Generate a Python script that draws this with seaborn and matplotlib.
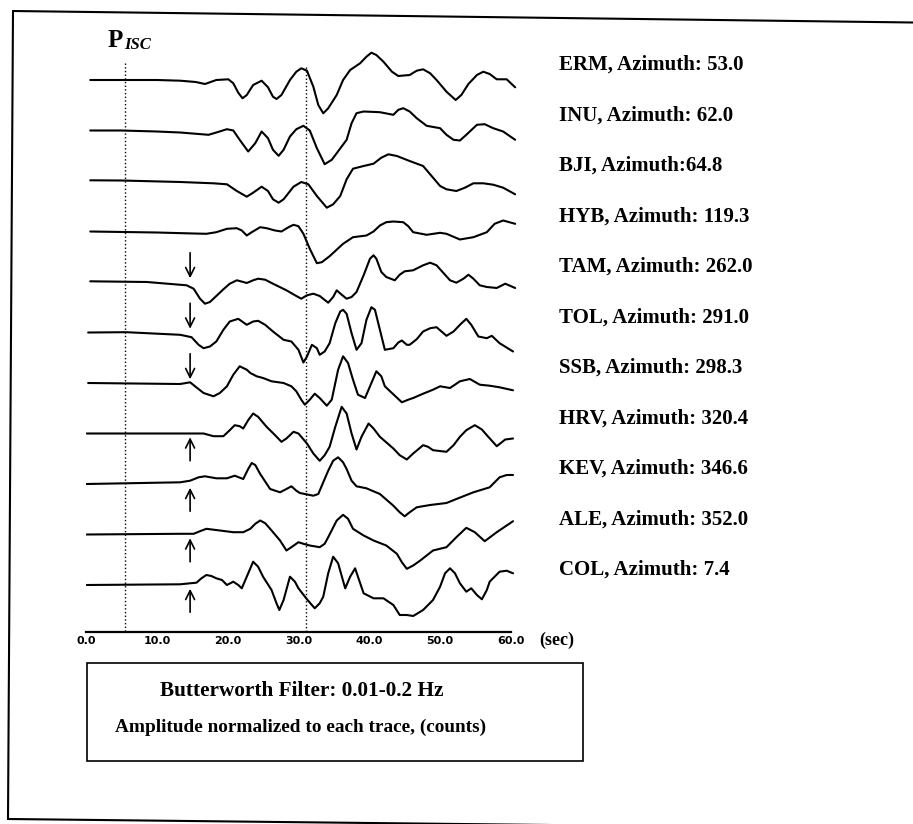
import pandas as pd
import matplotlib.pyplot as plt
import seaborn as sns
from matplotlib.patches import Rectangle
from matplotlib.lines import Line2D

erm = [(0.6, 0), (5, 0), (10, 0), (13.3, -0.7), (15.5, -2), (16.8, -4), (18.4, 0), (20.1, 0.7),
       (20.8, -3.3), (21.5, -12.7), (22.1, -18.3), (22.7, -15), (23.6, -5), (24.8, -0.7), (25.7, -7.3),
       (26.4, -16.7), (26.9, -19), (27.6, -15), (28.8, 0), (29.7, 8.3), (30.4, 11.7), (31.2, 9.3),
       (32.1, -6.7), (32.8, -25), (33.5, -33.3), (34.2, -28.3), (35.4, -15), (36.3, 0), (37.3, 10),
       (38.7, 16.7), (39.6, 23.3), (40.3, 27.3), (41.0, 25), (42.0, 18.3), (43.2, 8.3), (44.1, 4),
       (45.7, 5), (46.7, 9.3), (47.6, 10.7), (48.6, 6.7), (49.5, 0), (50.9, -11.7), (52.2, -20),
       (53.0, -15), (54.0, -4), (55.2, 5), (56.1, 8.3), (57.0, 6), (58.0, 0.7), (59.4, 0.7), (60.6, -7.3)]
inu = [(0.6, 0), (5, 0), (10, -1), (13.3, -2), (17.3, -4.3), (18.4, -2), (19.9, 1.3), (20.8, 0),
       (21.7, -9.3), (22.9, -21), (23.9, -12.7), (24.8, -1), (25.7, -7.7), (26.4, -19.3), (27.2, -25.3),
       (27.9, -19.3), (28.8, -6), (29.7, 1.3), (30.7, 4.7), (31.6, 0), (32.6, -17.7), (33.7, -33.7),
       (34.7, -29.3), (35.4, -22.7), (36.8, -9.3), (37.5, 7.3), (38.2, 17.3), (39.2, 19), (41.5, 18.3),
       (43.4, 15.7), (44.1, 20.7), (44.8, 22.3), (45.7, 19), (46.7, 12.3), (48.1, 4.7), (50.0, 2.3),
       (50.9, -4.3), (51.9, -9.3), (52.8, -10), (53.7, -4.3), (55.2, 5.7), (56.3, 6.3), (57.5, 2.3),
       (58.9, -1), (60.6, -9.3)]
bji = [(0.6, 0.7), (5, 0.5), (13.3, -1), (18.0, -2.3), (19.9, -3.3), (21.3, -10), (22.7, -15.7),
       (23.6, -11.7), (24.8, -5.7), (25.7, -10), (26.4, -18.3), (27.2, -21.7), (27.9, -18.3),
       (29.3, -5.7), (30.4, -1), (31.4, -3.3), (32.6, -15), (34.0, -26.7), (34.9, -23.3), (35.9, -15),
       (36.8, 1.7), (37.7, 12.3), (39.2, 15), (40.6, 17.3), (41.7, 23.3), (42.7, 26.7), (43.9, 25),
       (45.7, 20), (47.6, 15), (48.8, 5), (50.0, -5), (50.9, -8.3), (52.3, -10), (53.5, -6.7),
       (54.7, -2.3), (56.1, -2.3), (57.5, -3.7), (58.9, -6.7), (60.6, -13.3)]
hyb = [(0.6, 0), (10, -1), (15.2, -2), (17.0, -2.3), (18.4, -0.7), (19.9, 2.7), (21.3, 3.3),
       (22.0, 1), (22.7, -4), (23.4, -0.7), (24.6, 4.3), (25.5, 3.3), (26.7, 1), (27.6, 0), (28.6, 4.3),
       (29.3, 6.7), (30.0, 5.3), (30.7, -2.3), (31.6, -17.3), (32.6, -31.7), (33.3, -30.7),
       (34.4, -24.7), (36.3, -12.3), (37.7, -5.7), (39.6, -4), (40.6, 0), (41.5, 6), (42.4, 9.3),
       (43.4, 10), (44.8, 9.3), (45.5, 5.3), (46.2, -0.7), (48.1, -3.3), (50.0, -1.3), (50.9, -2.3),
       (52.8, -8), (54.7, -5.7), (56.6, -0.7), (57.7, 7.7), (58.9, 11), (60.6, 7.7)]
tam = [(0.6, 0.7), (8.6, 0), (14.2, -3.3), (15.2, -6.7), (16.1, -16.7), (16.8, -21.7), (17.5, -20),
       (18.4, -14), (19.4, -7.3), (20.3, -1.7), (21.3, 1.7), (22.2, 0), (22.7, -1), (23.6, 1.7),
       (24.3, 3.3), (25.3, 2.3), (26.4, -1.7), (28.3, -8.3), (29.7, -14), (30.4, -16.7), (31.2, -13.3),
       (32.1, -11.7), (33.0, -14), (34.2, -20.7), (34.9, -15), (35.4, -8.3), (36.1, -12.7),
       (36.8, -16.7), (37.5, -15), (38.2, -10), (39.2, 6.7), (40.1, 23.3), (40.6, 26.7), (41.0, 23.3),
       (41.7, 10), (42.4, 5), (43.6, 1.7), (44.3, 7.3), (45.0, 10.7), (46.2, 11.7), (47.6, 16.7),
       (48.6, 19.3), (49.5, 16.7), (51.4, 1.7), (52.3, -0.7), (53.3, 3.3), (54.0, 7.3), (54.7, 3.3),
       (55.6, -3.3), (56.6, -5), (58.0, -6), (59.2, -1.7), (60.6, -6)]
tol = [(0.3, 0), (5.7, 0.3), (13.3, -2.3), (14.9, -4.7), (15.9, -12.3), (16.6, -15.7), (17.5, -14),
       (18.4, -9), (19.4, 2.7), (20.3, 11), (21.5, 13.7), (22.7, 7.7), (23.6, 11), (24.3, 11.7),
       (25.3, 7.7), (26.4, 1), (27.9, -7.3), (29.0, -9), (30.0, -17.3), (30.7, -30), (31.2, -24),
       (31.9, -12.3), (32.6, -15.7), (33.0, -22.3), (33.7, -19), (34.4, -10.7), (35.2, 9.3), (35.9, 21),
       (36.3, 22.7), (36.8, 18.7), (37.5, -0.7), (38.2, -17.3), (38.9, -10.7), (39.6, 12.7),
       (40.3, 25.3), (40.8, 22.7), (41.5, 2.7), (42.2, -17.3), (43.4, -15.7), (44.1, -10), (44.6, -8),
       (45.3, -12.3), (45.7, -12.3), (46.7, -6.7), (47.6, 1), (48.6, 4.3), (49.5, 5.3), (50.2, 1),
       (50.9, -3.3), (51.9, 1), (52.8, 7.7), (53.7, 13.7), (54.4, 7.7), (55.4, -4), (56.6, -5.7),
       (57.3, -3.3), (58.4, -10.7), (60.3, -19)]
ssb = [(0.3, 0), (13.3, -1), (14.7, 0.7), (15.4, -3.3), (16.6, -10), (18.0, -13.3), (18.9, -10),
       (19.9, -3.3), (20.8, 8.3), (21.7, 16.7), (22.7, 13.3), (23.2, 10), (24.1, 6.7), (25.0, 5),
       (26.2, 1.7), (27.9, 0), (29.0, -3.3), (29.7, -8.3), (30.4, -16.7), (30.9, -21.7), (31.6, -16.7),
       (32.3, -10.7), (33.0, -15), (34.0, -22.7), (34.7, -16.7), (35.6, 13.3), (36.3, 26.7), (37.0, 20),
       (37.7, 3.3), (38.4, -11.7), (39.4, -15), (40.3, 0), (41.0, 11.7), (41.7, 6.7), (42.2, -3.3),
       (43.2, -10), (44.6, -19.3), (45.5, -16.7), (46.2, -15), (47.6, -10.7), (49.0, -6.7),
       (50.0, -3.3), (51.4, -5), (52.8, 1.7), (54.2, 4), (55.6, -1.7), (57.0, -2.7), (58.4, -4.3),
       (60.3, -7.3)]
hrv = [(0.1, 0), (13.3, 0), (16.6, 0), (18.0, -2.7), (19.4, -2.7), (20.3, 3.3), (21.0, 8.3),
       (21.7, 7.3), (22.2, 5), (22.9, 13.3), (23.6, 20), (24.3, 16.7), (25.5, 6.7), (26.7, -1.7),
       (27.6, -8.3), (28.3, -5), (29.3, 1.7), (30.0, 0), (31.2, -10), (32.1, -20), (33.0, -27.3),
       (33.7, -21.7), (34.4, -13.3), (35.2, 6.7), (36.1, 26.7), (36.8, 20), (37.5, 0), (38.2, -16),
       (38.9, -3.3), (39.9, 10), (40.6, 5), (41.5, -3.3), (43.4, -15), (44.3, -21.7), (45.3, -26),
       (46.2, -20), (47.6, -11.7), (48.3, -13.3), (49.0, -16.7), (50.9, -18.3), (51.9, -11.7),
       (52.8, -3.3), (53.7, 3.3), (54.9, 8.3), (55.9, 4), (56.6, -1.7), (58.0, -12.7), (59.2, -6),
       (60.3, -5)]
kev = [(0.1, 0), (13.3, 1.7), (14.7, 3.3), (15.9, 6.7), (16.8, 7.7), (18.4, 5.7), (19.9, 5.7),
       (21.0, 8.3), (22.2, 5), (22.9, 15), (23.4, 21), (23.9, 19), (24.6, 10), (26.0, -5), (27.4, -8.3),
       (28.3, -5), (29.0, -2.3), (29.7, -6.7), (30.2, -9), (32.1, -11.7), (32.8, -10), (33.5, 1.7),
       (34.2, 13.3), (34.9, 23.3), (35.6, 26.7), (36.3, 21.7), (36.8, 15), (37.5, 3.3), (38.2, -2.3),
       (39.6, -4.3), (41.5, -10), (43.4, -21.7), (44.3, -28.3), (45.0, -32.3), (45.7, -28.3),
       (46.7, -23.3), (48.6, -21), (50.9, -19), (52.3, -15), (54.7, -8.3), (57.0, -3.3), (58.4, 6.7),
       (59.4, 9), (60.3, 9)]
ale = [(0.1, 0), (13.3, 0.7), (15.2, 0.7), (16.1, 3.3), (17.0, 5.7), (18.9, 4), (20.8, 2.3),
       (22.2, 2.3), (23.2, 5.7), (23.9, 10.7), (24.6, 14), (25.3, 11.3), (26.0, 5.7), (27.4, -6),
       (28.3, -16), (29.0, -12.7), (30.0, -7.7), (30.7, -9.3), (31.6, -11), (33.0, -12.7), (33.7, -9.3),
       (34.2, -2.7), (35.4, 14), (36.3, 19.7), (37.0, 15.7), (37.7, 5.7), (39.2, -1), (40.6, -6),
       (42.4, -11), (43.9, -19.3), (44.6, -27.7), (45.3, -34.3), (46.2, -31), (47.2, -26), (49.0, -16),
       (50.9, -12.7), (52.3, -2.7), (53.7, 6.7), (54.9, 2.3), (56.3, -6.7), (58.0, 2.3), (60.3, 13.3)]
col = [(0.1, 0), (13.3, 0.7), (14.7, 1.7), (15.6, 2.3), (16.3, 6.7), (17.0, 10), (17.7, 9),
       (18.4, 6.7), (19.2, 5), (19.9, 0), (20.8, 3.3), (21.5, 0), (22.0, -3.3), (22.7, 8.3), (23.6, 23.3),
       (24.3, 18.3), (25.0, 8.3), (26.2, -5), (26.9, -18.3), (27.3, -25), (27.9, -15), (28.8, 8.3),
       (29.5, 3.3), (30.0, -3.3), (31.2, -14.3), (32.3, -23.3), (33.0, -18.3), (33.5, -11.7),
       (34.2, 11.7), (34.9, 28.3), (35.6, 21.7), (36.6, -3.3), (37.3, 8.3), (38.0, 16.7), (38.4, 8.3),
       (39.2, -8.3), (40.6, -13.3), (42.0, -13.3), (43.4, -20), (44.3, -30), (45.3, -30), (46.2, -31),
       (47.6, -25), (49.0, -15), (50.0, -1.7), (50.7, 11.7), (51.4, 16.7), (52.1, 11.7), (52.8, 1.7),
       (53.7, -6.7), (54.4, -3.3), (55.2, -10), (55.9, -14.3), (56.6, -5), (57.0, 3.3), (58.4, 13.3),
       (59.4, 14.3), (60.3, 11.7)]

traces = [erm, inu, bji, hyb, tam, tol, ssb, hrv, kev, ale, col]
labels = ["ERM, Azimuth: 53.0", "INU, Azimuth: 62.0", "BJI, Azimuth:64.8", "HYB, Azimuth: 119.3",
          "TAM, Azimuth: 262.0", "TOL, Azimuth: 291.0", "SSB, Azimuth: 298.3", "HRV, Azimuth: 320.4",
          "KEV, Azimuth: 346.6", "ALE, Azimuth: 352.0", "COL, Azimuth: 7.4"]
polarity = [None, None, None, None, 'down', 'down', 'down', 'up', 'up', 'up', 'up']
arrival = 14.7
p_isc_time = 5.5
second_time = 31.1
xticks = [0, 10, 20, 30, 40, 50, 60]

sns.set_style('white')
plt.rcParams['font.family'] = ['Liberation Serif', 'DejaVu Serif']
plt.rcParams['text.color'] = 'black'
plt.rcParams['xtick.color'] = 'black'

W, H = 913, 824
fig = plt.figure(figsize=(W / 100, H / 100), dpi=100)
ax = fig.add_axes([86 / W, 1 - 632 / H, 432 / W, 612 / H])

top0 = 80
step = 50.5
for i, tr in enumerate(traces):
    df = pd.DataFrame(tr, columns=['t', 'a'])
    base = -(top0 + i * step)
    df['y'] = df['a'] + base
    sns.lineplot(data=df, x='t', y='y', ax=ax, color='black', lw=1.5, sort=False, estimator=None,
                 solid_joinstyle='round')
    ax.text(66.8, base + 10.3, labels[i], fontsize=15, fontweight='bold', va='baseline', ha='left')
    if polarity[i] == 'down':
        ax.annotate('', xy=(arrival, base + 1), xytext=(arrival, base + 32),
                    arrowprops=dict(arrowstyle='->', lw=1.2, mutation_scale=16, color='black'))
    elif polarity[i] == 'up':
        ax.annotate('', xy=(arrival, base - 1), xytext=(arrival, base - 30),
                    arrowprops=dict(arrowstyle='->', lw=1.2, mutation_scale=16, color='black'))

ax.plot([p_isc_time, p_isc_time], [-63, -632], ls=':', lw=1, color='black')
ax.plot([second_time, second_time], [-67, -632], ls=':', lw=1, color='black')

ax.set_xlim(0, 61)
ax.set_ylim(-632, -20)
for s in ['top', 'left', 'right']:
    ax.spines[s].set_visible(False)
ax.spines['bottom'].set_bounds(0, 60)
ax.spines['bottom'].set_linewidth(1.6)
ax.spines['bottom'].set_color('black')
ax.set_yticks([])
ax.set_xticks(xticks)
ax.set_xticklabels([f"{v:.1f}" for v in xticks], fontsize=8, fontweight='bold', family='DejaVu Sans')
ax.tick_params(axis='x', direction='in', length=4, width=1.2, pad=3, colors='black')
ax.set_xlabel('')
ax.set_ylabel('')
ax.text(64.0, -640, '(sec)', fontsize=13, fontweight='bold', va='center', ha='left')

fig.text(108 / W, 1 - 47 / H, 'P', fontsize=18, fontweight='bold', va='baseline', ha='left')
fig.text(124.5 / W, 1 - 49 / H, 'ISC', fontsize=12, fontweight='bold', style='italic',
         va='baseline', ha='left')

fig.patches.append(Rectangle((87 / W, 1 - 761 / H), 496 / W, 98 / H, transform=fig.transFigure,
                             fill=False, lw=1.2, ec='black'))
fig.text(302 / W, 1 - 691 / H, 'Butterworth Filter: 0.01-0.2 Hz', fontsize=15.3,
         fontweight='bold', ha='center', va='center')
fig.text(301 / W, 1 - 727 / H, 'Amplitude normalized to each trace, (counts)', fontsize=13.9,
         fontweight='bold', ha='center', va='center')

# page frame, slightly tilted as on the scan
for (x0, y0), (x1, y1) in [((13, 11), (913, 22.5)), ((13, 11), (8, 819)), ((8, 819), (913, 829))]:
    fig.lines.append(Line2D([x0 / W, x1 / W], [1 - y0 / H, 1 - y1 / H], transform=fig.transFigure,
                            lw=1.5, color='black'))

fig.savefig('out.png', dpi=100)
